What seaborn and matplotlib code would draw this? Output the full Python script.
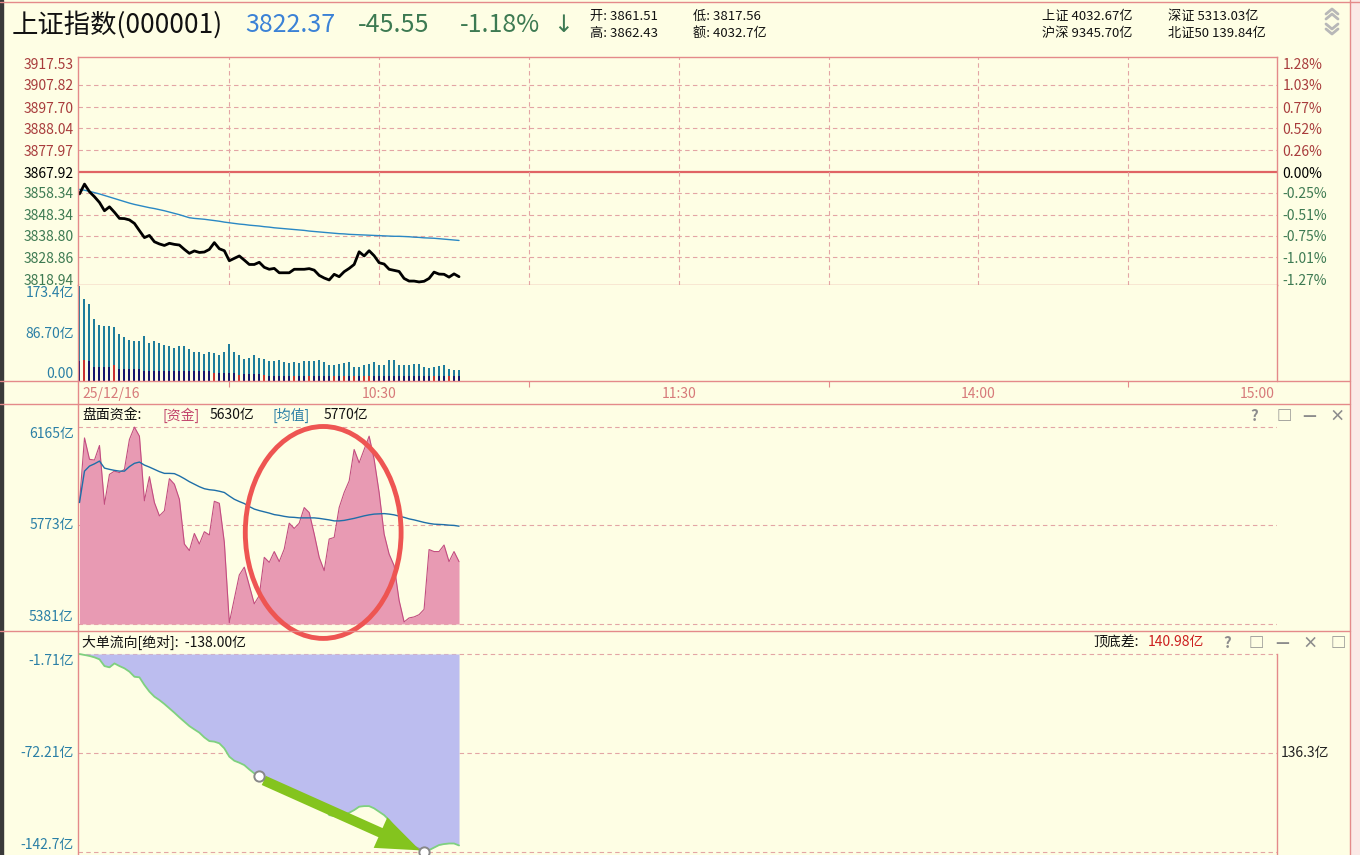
import numpy as np
import pandas as pd
import seaborn as sns
import matplotlib.pyplot as plt
from matplotlib.lines import Line2D
from matplotlib.patches import Ellipse, Rectangle

# ---- values, one per minute from 9:30 ----
minutes = list(range(77))

price = [3857.9, 3862.4, 3858.9, 3856.6, 3854.0, 3850.2, 3852.0, 3849.5, 3846.7, 3846.6,
         3846.0, 3844.4, 3841.1, 3837.9, 3838.9, 3836.0, 3835.0, 3834.3, 3835.3, 3834.8,
         3834.5, 3832.5, 3830.7, 3831.8, 3831.1, 3831.3, 3832.5, 3835.6, 3832.8, 3831.9,
         3827.3, 3828.4, 3829.5, 3827.6, 3825.6, 3825.6, 3826.6, 3824.3, 3823.4, 3823.8,
         3821.8, 3821.8, 3821.8, 3823.4, 3823.4, 3823.4, 3823.7, 3823.0, 3820.6, 3819.4,
         3818.5, 3821.1, 3820.0, 3822.3, 3823.8, 3825.6, 3831.4, 3829.5, 3831.9, 3829.6,
         3826.4, 3825.8, 3823.4, 3822.9, 3822.4, 3819.2, 3818.0, 3818.0, 3817.6, 3817.9,
         3819.2, 3822.1, 3821.2, 3821.1, 3819.8, 3821.3, 3820.0]

price_avg = [3860.0, 3859.6, 3859.1, 3858.5, 3857.9, 3857.2, 3856.5, 3855.8, 3855.1, 3854.4,
             3853.7, 3853.1, 3852.6, 3852.1, 3851.6, 3851.2, 3850.7, 3850.2, 3849.6, 3849.0,
             3848.4, 3847.7, 3847.0, 3846.7, 3846.5, 3846.3, 3846.0, 3845.7, 3845.4, 3845.0,
             3844.7, 3844.4, 3844.1, 3843.9, 3843.6, 3843.4, 3843.2, 3842.9, 3842.7, 3842.4,
             3842.2, 3842.0, 3841.8, 3841.6, 3841.4, 3841.2, 3840.9, 3840.7, 3840.5, 3840.3,
             3840.1, 3839.9, 3839.7, 3839.6, 3839.4, 3839.3, 3839.2, 3839.1, 3839.0, 3838.9,
             3838.8, 3838.7, 3838.6, 3838.5, 3838.5, 3838.4, 3838.3, 3838.1, 3838.0, 3837.8,
             3837.7, 3837.6, 3837.4, 3837.2, 3837.0, 3836.8, 3836.6]

vol_total = [173.4, 150, 141, 114, 103, 101, 100, 99.5, 86, 81,
             76, 73, 73, 83, 70, 73, 70, 66, 64, 61,
             64, 64, 59, 53, 54, 49, 53, 51, 47, 54,
             67, 54, 47, 40, 42, 47, 43, 40, 36, 36,
             39, 35, 33, 34, 33, 36, 36, 36, 39, 34,
             29, 29, 31, 33, 34, 26, 26, 29, 31, 34,
             29, 29, 38, 38, 30, 29, 29, 31, 31, 26,
             23, 26, 28, 29, 22, 21, 21]
vol_lower = [37, 39, 37, 26, 26, 26, 26, 30, 22, 22,
             22, 22, 22, 17.5, 17.5, 17.5, 17.5, 17.5, 17.5, 17.5,
             17.5, 17.5, 17.5, 17.5, 17.5, 17.5, 17.5, 15, 15, 15,
             15, 15, 11, 12.5, 12.5, 12.5, 12.5, 11, 9, 9,
             9, 9, 9, 9, 9, 9, 9, 9, 9, 9,
             9, 9, 9, 9, 9, 9, 9, 9, 9, 9,
             9, 9, 9, 9, 9, 9, 9, 9, 9, 9,
             9, 9, 9, 9, 9, 9, 9]
red_bars = [1, 7, 27, 32, 37, 43, 46, 51, 53, 55, 57, 58, 71, 74]

capital = [5864, 6121, 6036, 6033, 6091, 5857, 5976, 5989, 5983, 5996,
           6115, 6164, 6128, 5871, 5967, 5864, 5811, 5831, 5959, 5937,
           5877, 5699, 5673, 5741, 5699, 5748, 5735, 5869, 5861, 5706,
           5386, 5481, 5576, 5607, 5534, 5461, 5494, 5646, 5626, 5669,
           5629, 5679, 5782, 5761, 5782, 5844, 5824, 5739, 5646, 5593,
           5719, 5725, 5844, 5904, 5950, 6075, 6022, 6075, 6128, 6036,
           5904, 5739, 5659, 5613, 5475, 5389, 5405, 5409, 5418, 5439,
           5677, 5669, 5669, 5695, 5629, 5669, 5629]
capital_avg = [5864, 5989, 6009, 6018, 6029, 6001, 5996, 5992, 5989, 5989,
               6007, 6020, 6025, 6013, 6005, 5996, 5987, 5980, 5980, 5979,
               5970, 5959, 5947, 5937, 5927, 5919, 5915, 5913, 5909, 5904,
               5890, 5877, 5868, 5860, 5848, 5838, 5832, 5827, 5822, 5816,
               5813, 5809, 5806, 5805, 5803, 5803, 5803, 5803, 5801, 5798,
               5795, 5791, 5791, 5793, 5797, 5801, 5806, 5811, 5815, 5818,
               5819, 5820, 5818, 5815, 5810, 5805, 5799, 5795, 5790, 5785,
               5781, 5778, 5777, 5776, 5774, 5773, 5770]

big_flow = [-1.71, -2.4, -3.1, -4.1, -5.5, -10.3, -11.2, -8.4, -10.3, -11.9,
            -14.3, -17.9, -18.3, -23.8, -28.5, -32.1, -34.5, -37.3, -40.4, -43.5,
            -46.8, -49.9, -53.0, -55.4, -57.7, -61.1, -63.7, -64.1, -65.3, -68.9,
            -74.8, -77.7, -79.1, -80.8, -83.9, -86.7, -90.3, -91.0, -92.6, -95.0,
            -98.1, -100.5, -101.4, -101.7, -102.1, -102.8, -104.5, -105.2, -107.6, -110.4,
            -116.4, -117.1, -117.6, -116.4, -114.7, -112.8, -110.4, -110.0, -110.0, -111.6,
            -114.0, -116.4, -119.9, -124.7, -130.6, -134.2, -137.0, -138.9, -141.0, -142.7,
            -141.3, -139.5, -137.7, -137.0, -136.6, -136.6, -138.0]

prev_close = 3867.92
price_ticks = [3917.53, 3907.82, 3897.70, 3888.04, 3877.97, 3867.92,
               3858.34, 3848.34, 3838.80, 3828.86, 3818.94]
pct_labels = ['1.28%', '1.03%', '0.77%', '0.52%', '0.26%', '0.00%',
              '-0.25%', '-0.51%', '-0.75%', '-1.01%', '-1.27%']
vol_ticks = [173.4, 86.70, 0.0]
vol_labels = ['173.4亿', '86.70亿', '0.00']
cap_ticks = [6165, 5773, 5381]
cap_labels = ['6165亿', '5773亿', '5381亿']
flow_ticks = [-1.71, -72.21, -142.7]
flow_labels = ['-1.71亿', '-72.21亿', '-142.7亿']
time_ticks = [0, 60, 120, 180, 240]
time_labels = ['25/12/16', '10:30', '11:30', '14:00', '15:00']

# ---- style ----
BG = '#fefee4'
FRAME = '#e48a8a'
GRID = '#e3a5a5'
UP = '#a83c3c'
DOWN = '#3d7a52'
TEAL = '#2a7fa6'

sns.set_theme(style='white')
plt.rcParams['font.family'] = ['Noto Sans CJK SC', 'DejaVu Sans']
plt.rcParams['axes.unicode_minus'] = False

W, H = 1360, 855
fig = plt.figure(figsize=(13.6, 8.55), dpi=100, facecolor=BG)


def box(x0, y0, x1, y1):
    return [x0 / W, 1 - y1 / H, (x1 - x0) / W, (y1 - y0) / H]


def fline(xs, ys, **kw):
    fig.add_artist(Line2D([x / W for x in xs], [1 - y / H for y in ys],
                          color=kw.pop('color', FRAME), lw=kw.pop('lw', 1.0), **kw))


def ftext(x, y, s, **kw):
    fig.text(x / W, 1 - y / H, s, va='center', **kw)


XL = (-0.3, 239.8)
dash = (0, (4, 3))

ax_p = fig.add_axes(box(78, 57, 1277, 285))
ax_v = fig.add_axes(box(78, 285, 1277, 381))
ax_t = fig.add_axes(box(78, 381, 1277, 404))
ax_c = fig.add_axes(box(78, 405, 1277, 631))
ax_f = fig.add_axes(box(78, 632, 1277, 855))
for a in (ax_p, ax_v, ax_t, ax_c, ax_f):
    a.set_facecolor(BG)
    a.set_xlim(*XL)
    a.set_xticks([])
    for s in a.spines.values():
        s.set_color(FRAME)
        s.set_linewidth(1.0)

# ---- price panel ----
ax_p.set_ylim(3816.2, 3920.6)
for t in price_ticks[1:-1]:
    if t == prev_close:
        ax_p.axhline(t, color='#e06464', lw=1.6, zorder=1)
    else:
        ax_p.axhline(t, color=GRID, lw=0.8, ls=dash, zorder=1)
for m in range(30, 240, 30):
    ax_p.axvline(m, color=GRID, lw=0.8, ls=dash, zorder=1)
sns.lineplot(x=minutes, y=price_avg, ax=ax_p, color='#2a88c4', lw=1.0)
sns.lineplot(x=minutes, y=price, ax=ax_p, color='black', lw=2.0)
ax_p.set_yticks(price_ticks)
ax_p.set_yticklabels([f'{t:.2f}' for t in price_ticks])
ax_p.tick_params(axis='y', length=0, pad=3, labelsize=10)
ax_p2 = ax_p.twinx()
ax_p2.set_ylim(ax_p.get_ylim())
ax_p2.set_yticks(price_ticks)
ax_p2.set_yticklabels(pct_labels)
ax_p2.tick_params(axis='y', length=0, pad=4, labelsize=10)
for s in ax_p2.spines.values():
    s.set_visible(False)
for labs in (ax_p.get_yticklabels(), ax_p2.get_yticklabels()):
    for t, lab in zip(price_ticks, labs):
        lab.set_color(UP if t > prev_close else ('black' if t == prev_close else DOWN))
ax_p.set_ylabel('')
ax_p2.set_ylabel('')

# ---- volume panel ----
bar_df = pd.DataFrame({'minute': minutes, 'total': vol_total, 'lower': vol_lower,
                       'red': [i in red_bars for i in minutes]})
sns.barplot(data=bar_df, x='minute', y='total', ax=ax_v, native_scale=True,
            color='#1f7d9c', width=0.4, errorbar=None, saturation=1, linewidth=0)
sns.barplot(data=bar_df[~bar_df['red']], x='minute', y='lower', ax=ax_v, native_scale=True,
            color='#17176e', width=0.4, errorbar=None, saturation=1, linewidth=0)
sns.barplot(data=bar_df[bar_df['red']], x='minute', y='lower', ax=ax_v, native_scale=True,
            color='#c83232', width=0.4, errorbar=None, saturation=1, linewidth=0)
ax_v.set_xlim(*XL)
ax_v.set_ylim(0, 176)
ax_v.spines['top'].set_visible(False)
ax_v.spines['bottom'].set_visible(False)
ax_v.set_yticks(vol_ticks)
ax_v.set_yticklabels(vol_labels)
ax_v.tick_params(axis='y', length=0, pad=3, labelsize=10, labelcolor=TEAL)
for lab, va in zip(ax_v.get_yticklabels(), ['top', 'center', 'bottom']):
    lab.set_va(va)
ax_v.set_xlabel('')
ax_v.set_ylabel('')
ax_v.set_xticks([])

# ---- time strip ----
ax_t.set_ylim(0, 1)
ax_t.set_yticks([])
for s in ('top', 'bottom', 'right'):
    ax_t.spines[s].set_visible(False)
ax_t.vlines(range(30, 240, 60), 0.72, 1.0, color=FRAME, lw=0.8)
for m, lab in zip(time_ticks, time_labels):
    ha = 'left' if m == 0 else ('right' if m == 240 else 'center')
    ax_t.text(m + (0.6 if m == 0 else (-0.6 if m == 240 else 0)), 0.42, lab,
              ha=ha, va='center', fontsize=10, color='#d77a7a')

# ---- capital panel ----
ax_c.set_ylim(5353, 6252)
for t in cap_ticks:
    ax_c.axhline(t, color=GRID, lw=0.8, ls=dash, zorder=1)
ax_c.fill_between(minutes, capital, 5381, color='#e89ab3', lw=0, zorder=2)
sns.lineplot(x=minutes, y=capital, ax=ax_c, color='#c24d80', lw=0.8, zorder=3)
sns.lineplot(x=minutes, y=capital_avg, ax=ax_c, color='#1f6fa8', lw=1.0, zorder=4)
ax_c.set_yticks(cap_ticks)
ax_c.set_yticklabels(cap_labels)
ax_c.tick_params(axis='y', length=0, pad=3, labelsize=10, labelcolor=TEAL)
for lab, va in zip(ax_c.get_yticklabels(), ['top', 'center', 'bottom']):
    lab.set_va(va)
for s in ('top', 'bottom', 'right'):
    ax_c.spines[s].set_visible(False)
ax_c.set_ylabel('')

# ---- big order flow panel ----
ax_f.set_ylim(-144.8, 13.95)
for t in flow_ticks:
    ax_f.axhline(t, color=GRID, lw=0.8, ls=dash, zorder=1)
ax_f.fill_between(minutes, big_flow, flow_ticks[0], color='#bcbdef', lw=0, zorder=2)
sns.lineplot(x=minutes, y=big_flow, ax=ax_f, color='#7fd17f', lw=1.3, zorder=3)
ax_f.set_yticks(flow_ticks)
ax_f.set_yticklabels(flow_labels)
ax_f.tick_params(axis='y', length=0, pad=3, labelsize=10, labelcolor=TEAL)
for lab, va in zip(ax_f.get_yticklabels(), ['top', 'center', 'bottom']):
    lab.set_va(va)
ax_f.spines['top'].set_visible(False)
ax_f.spines['bottom'].set_visible(False)
ax_f.spines['right'].set_bounds(-144.8, flow_ticks[0])
ax_f.set_ylabel('')
ax_f.text(240.5, flow_ticks[1], '136.3亿', ha='left', va='center', fontsize=10,
          color='#222222', clip_on=False)
p0, p1 = 36, 69
ax_f.plot([p0, p1], [big_flow[p0] + 1.5, big_flow[p1] + 0.8], color='#999999', lw=1.2, zorder=5)
ax_f.annotate('', xy=(p1 - 0.3, big_flow[p1] + 0.4), xytext=(p0 + 0.4, big_flow[p0] - 0.6),
              arrowprops=dict(arrowstyle='simple,head_length=1.3,head_width=1.0,tail_width=0.3',
                              color='#84c41e', lw=0, mutation_scale=24), zorder=6)
ax_f.scatter([p0, p1], [big_flow[p0] + 1.5, big_flow[p1]], s=55, facecolor='white',
             edgecolor='#888888', lw=1.4, zorder=7, clip_on=False)

# red ellipse drawn on top of every panel
fig.add_artist(Ellipse((48.8, 5745), 31.2, 843, fill=False, ec='#ee5552', lw=3.5,
                       transform=ax_c.transData))

# ---- frame lines ----
fline([0, W], [2, 2])
fline([0, 1350], [381, 381])
fline([0, 1350], [404, 404])
fline([0, 1350], [631, 631])
fline([1350, 1350], [0, H])
fig.add_artist(Rectangle((0, 0), 3 / W, 1, transform=fig.transFigure, color='#3a3a3a'))
fig.add_artist(Rectangle((1351 / W, 0), 9 / W, 1, transform=fig.transFigure, color='#fbe9e6'))

# double chevrons (scroll buttons)
for y0 in (9, 14):
    fline([1326, 1332, 1338], [y0 + 5, y0, y0 + 5], color='#b8b8b8', lw=2)
for y0 in (29, 34):
    fline([1326, 1332, 1338], [y0 - 5, y0, y0 - 5], color='#b8b8b8', lw=2)

# ---- header ----
ftext(12, 25, '上证指数(000001)', fontsize=19, color='#111111')
ftext(245, 25, '3822.37', fontsize=18, color='#3b82d6')
ftext(358, 25, '-45.55', fontsize=18, color=DOWN)
ftext(460, 25, '-1.18%', fontsize=18, color=DOWN)
ftext(553, 25, '↓', fontsize=17, color=DOWN, family=['DejaVu Sans'])
ftext(590, 16, '开: 3861.51', fontsize=9.5, color='#111111')
ftext(693, 16, '低: 3817.56', fontsize=9.5, color='#111111')
ftext(590, 33, '高: 3862.43', fontsize=9.5, color='#111111')
ftext(693, 33, '额: 4032.7亿', fontsize=9.5, color='#111111')
ftext(1042, 16, '上证 4032.67亿', fontsize=9.5, color='#111111')
ftext(1168, 16, '深证 5313.03亿', fontsize=9.5, color='#111111')
ftext(1042, 33, '沪深 9345.70亿', fontsize=9.5, color='#111111')
ftext(1168, 33, '北证50 139.84亿', fontsize=9.5, color='#111111')

ftext(82, 415, '盘面资金:', fontsize=10, color='#111111')
ftext(162, 415, '[资金]', fontsize=10, color='#c2446c')
ftext(210, 415, '5630亿', fontsize=10, color='#111111')
ftext(273, 415, '[均值]', fontsize=10, color=TEAL)
ftext(324, 415, '5770亿', fontsize=10, color='#111111')
for x, s in zip([1250, 1276, 1302, 1329], ['?', '□', '—', '×']):
    ftext(x, 416, s, fontsize=11, color='#8c8c8c', fontweight='bold')

ftext(82, 642, '大单流向[绝对]:  -138.00亿', fontsize=10, color='#111111')
ftext(1093, 642, '顶底差:', fontsize=10, color='#111111')
ftext(1148, 642, '140.98亿', fontsize=10, color='#cc2020')
for x, s in zip([1223, 1249, 1275, 1302, 1330], ['?', '□', '—', '×', '□']):
    ftext(x, 643, s, fontsize=11, color='#8c8c8c', fontweight='bold')

fig.savefig('out.png', dpi=100, facecolor=BG)
